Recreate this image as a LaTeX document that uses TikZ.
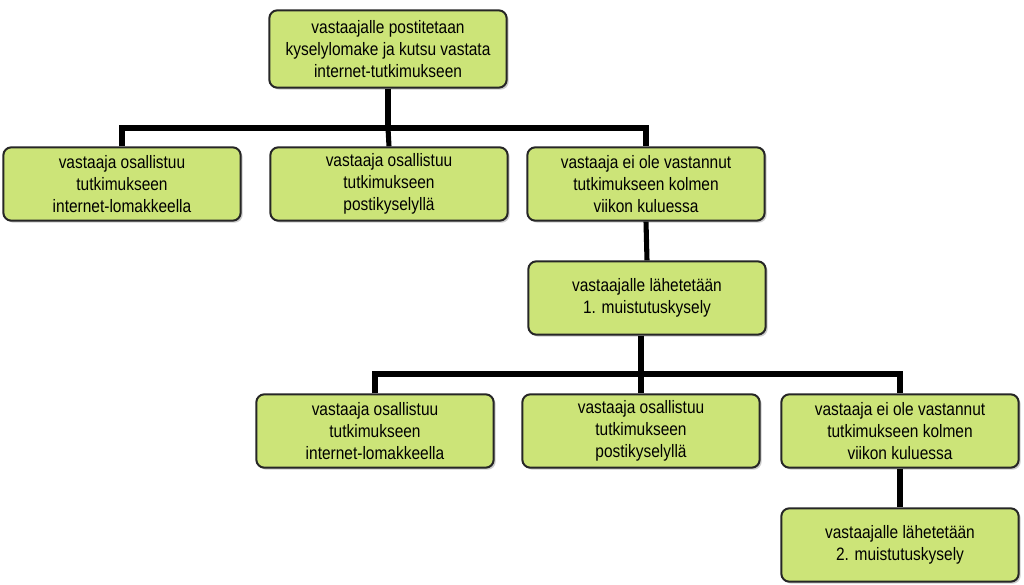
\documentclass[tikz,border=0pt]{standalone}
\usepackage{fontspec}
\setmainfont{Liberation Sans}[FakeStretch=0.86]
\usetikzlibrary{shadows}
\definecolor{boxgreen}{RGB}{204,228,120}
\tikzset{
    stepbox/.style={draw=black!85, line width=1.5pt, fill=boxgreen, rounded corners=6pt,
        minimum width=178pt, minimum height=55pt, align=center, inner sep=1pt,
        font=\fontsize{13.5}{16.5}\selectfont,
        drop shadow={shadow xshift=1.5pt, shadow yshift=-1.5pt, fill=black!40}},
    link/.style={line width=3.8pt}
}
\begin{document}
\begin{tikzpicture}[x=0.75pt,y=-0.75pt]
    \useasboundingbox (0,0) rectangle (1024,585);
    % ylin taso
    \node[stepbox, minimum height=58pt] (top) at (388,49) {vastaajalle postitetaan\\kyselylomake ja kutsu vastata\\internet-tutkimukseen};
    \node[stepbox] (net1) at (122,184) {vastaaja osallistuu\\tutkimukseen\\internet-lomakkeella};
    \node[stepbox] (post1) at (389,184) {vastaaja osallistuu\\tutkimukseen\\postikyselyllä};
    \node[stepbox] (no1) at (646,184) {vastaaja ei ole vastannut\\tutkimukseen kolmen\\viikon kuluessa};
    \node[stepbox] (rem1) at (647,298) {vastaajalle lähetetään\\1. muistutuskysely};
    % toinen kierros
    \node[stepbox] (net2) at (375,431) {vastaaja osallistuu\\tutkimukseen\\internet-lomakkeella};
    \node[stepbox] (post2) at (641,431) {vastaaja osallistuu\\tutkimukseen\\postikyselyllä};
    \node[stepbox] (no2) at (900,431) {vastaaja ei ole vastannut\\tutkimukseen kolmen\\viikon kuluessa};
    \node[stepbox] (rem2) at (900,545) {vastaajalle lähetetään\\2. muistutuskysely};
    \coordinate (bar1) at (388,128);
    \coordinate (bar2) at (641,374);
    \begin{scope}[on background layer/.style={}]
    \draw[link] (top.south) -- (bar1);
    \draw[link] (net1.north) |- (bar1) -| (no1.north);
    \draw[link] (bar1) -- (post1.north);
    \draw[link] (no1.south) -- (rem1.north);
    \draw[link] (rem1.south -| bar2) -- (bar2);
    \draw[link] (net2.north) |- (bar2) -| (no2.north);
    \draw[link] (bar2) -- (post2.north);
    \draw[link] (no2.south) -- (rem2.north);
    \end{scope}
\end{tikzpicture}
\end{document}
